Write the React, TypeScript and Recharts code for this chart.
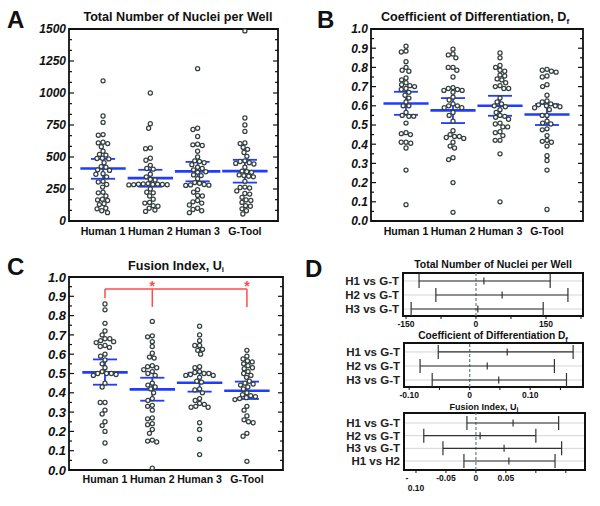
import React from "react";
import {
  ScatterChart,
  Scatter,
  XAxis,
  YAxis,
  ReferenceLine,
  ReferenceArea,
  ErrorBar,
  CartesianGrid,
} from "recharts";

const FONT = "'Liberation Sans', Arial, Helvetica, sans-serif";
const GROUPS = ["Human 1", "Human 2", "Human 3", "G-Tool"];

// A: total number of nuclei per well
const NUCLEI_H1 = [1095, 820, 770, 675, 670, 615, 610, 605, 580, 545, 520, 515, 490, 488, 485, 455, 425, 420, 400, 395, 370, 365, 345, 310, 305, 285, 265, 225, 220, 195, 170, 165, 160, 135, 128, 100, 95, 80, 65];
const NUCLEI_H2 = [1000, 760, 725, 570, 565, 490, 475, 435, 410, 405, 365, 345, 325, 320, 292, 290, 288, 287, 286, 285, 284, 283, 282, 250, 225, 220, 195, 170, 145, 140, 120, 115, 100, 85, 75];
const NUCLEI_H3 = [1190, 725, 715, 660, 600, 595, 590, 545, 500, 470, 465, 455, 440, 420, 410, 400, 385, 380, 360, 355, 330, 300, 295, 285, 282, 280, 278, 245, 225, 200, 195, 160, 150, 140, 125, 100, 90, 80, 65];
const NUCLEI_GT = [1485, 805, 750, 700, 610, 605, 575, 560, 535, 505, 470, 465, 455, 450, 445, 420, 390, 385, 380, 360, 355, 350, 345, 310, 265, 262, 258, 235, 215, 210, 185, 165, 160, 145, 120, 115, 95, 80, 55];
const NUCLEI_MEAN = [410, 335, 388, 390];
const NUCLEI_LO = [330, 268, 310, 300];
const NUCLEI_HI = [485, 400, 462, 478];

// B: coefficient of differentiation
const DIFF_H1 = [0.91, 0.885, 0.88, 0.83, 0.8, 0.785, 0.78, 0.745, 0.735, 0.72, 0.71, 0.705, 0.7, 0.69, 0.685, 0.67, 0.655, 0.64, 0.62, 0.6, 0.6, 0.565, 0.55, 0.545, 0.545, 0.51, 0.46, 0.455, 0.45, 0.41, 0.41, 0.405, 0.38, 0.265, 0.085];
const DIFF_H2 = [0.895, 0.87, 0.865, 0.85, 0.8, 0.8, 0.785, 0.75, 0.695, 0.69, 0.685, 0.68, 0.68, 0.67, 0.645, 0.63, 0.61, 0.6, 0.6, 0.59, 0.59, 0.565, 0.55, 0.52, 0.47, 0.45, 0.44, 0.44, 0.435, 0.43, 0.41, 0.39, 0.38, 0.33, 0.32, 0.2, 0.045];
const DIFF_H3 = [0.875, 0.85, 0.81, 0.8, 0.785, 0.78, 0.76, 0.755, 0.74, 0.735, 0.72, 0.705, 0.7, 0.69, 0.69, 0.64, 0.62, 0.61, 0.6, 0.595, 0.58, 0.565, 0.55, 0.545, 0.54, 0.53, 0.51, 0.505, 0.49, 0.49, 0.465, 0.46, 0.445, 0.42, 0.42, 0.35, 0.1];
const DIFF_GT = [0.79, 0.785, 0.78, 0.775, 0.755, 0.75, 0.71, 0.7, 0.655, 0.625, 0.62, 0.61, 0.605, 0.6, 0.6, 0.595, 0.59, 0.58, 0.55, 0.55, 0.52, 0.51, 0.505, 0.48, 0.475, 0.445, 0.42, 0.415, 0.41, 0.39, 0.34, 0.315, 0.265, 0.06];
const DIFF_MEAN = [0.612, 0.576, 0.6, 0.555];
const DIFF_LO = [0.553, 0.51, 0.548, 0.5];
const DIFF_HI = [0.673, 0.64, 0.652, 0.609];

// C: fusion index
const FUSION_H1 = [0.86, 0.83, 0.76, 0.72, 0.7, 0.68, 0.68, 0.67, 0.665, 0.66, 0.645, 0.64, 0.635, 0.6, 0.59, 0.57, 0.55, 0.53, 0.51, 0.5, 0.5, 0.5, 0.495, 0.49, 0.45, 0.43, 0.35, 0.35, 0.31, 0.29, 0.25, 0.23, 0.2, 0.14, 0.045];
const FUSION_H2 = [0.77, 0.695, 0.69, 0.665, 0.64, 0.605, 0.585, 0.58, 0.54, 0.535, 0.53, 0.52, 0.51, 0.5, 0.49, 0.45, 0.44, 0.43, 0.42, 0.4, 0.37, 0.36, 0.335, 0.33, 0.31, 0.27, 0.265, 0.24, 0.235, 0.21, 0.19, 0.155, 0.15, 0.145, 0.01];
const FUSION_H3 = [0.745, 0.7, 0.67, 0.645, 0.645, 0.625, 0.62, 0.6, 0.535, 0.53, 0.51, 0.505, 0.5, 0.5, 0.495, 0.49, 0.49, 0.48, 0.46, 0.455, 0.42, 0.415, 0.4, 0.37, 0.36, 0.345, 0.34, 0.33, 0.325, 0.325, 0.245, 0.21, 0.16, 0.08];
const FUSION_GT = [0.62, 0.59, 0.575, 0.565, 0.56, 0.55, 0.54, 0.53, 0.525, 0.51, 0.5, 0.49, 0.48, 0.46, 0.45, 0.445, 0.44, 0.43, 0.42, 0.4, 0.39, 0.385, 0.38, 0.375, 0.37, 0.365, 0.33, 0.31, 0.28, 0.26, 0.25, 0.245, 0.19, 0.175, 0.045];
const FUSION_MEAN = [0.506, 0.418, 0.452, 0.411];
const FUSION_LO = [0.442, 0.359, 0.406, 0.368];
const FUSION_HI = [0.573, 0.478, 0.504, 0.458];
const SIG_STARS = [2, 4];

// D: confidence intervals of differences
const D_ROWS3 = ["H1 vs G-T", "H2 vs G-T", "H3 vs G-T"];
const D_ROWS4 = ["H1 vs G-T", "H2 vs G-T", "H3 vs G-T", "H1 vs H2"];
const D1_LO = [-122, -86, -139];
const D1_MID = [17, 56, 4];
const D1_HI = [159, 197, 144];
const D2_LO = [-0.052, -0.082, -0.062];
const D2_MID = [0.062, 0.029, 0.048];
const D2_HI = [0.171, 0.14, 0.16];
const D3_LO = [-0.015, -0.087, -0.055, -0.02];
const D3_MID = [0.062, 0.007, 0.047, 0.055];
const D3_HI = [0.138, 0.1, 0.143, 0.132];

const BLUE = "#1f3cff";
const RED = "#ff4a4a";

type Margin = { top: number; right: number; bottom: number; left: number };

// simple beeswarm: place each point nearest the centre without overlapping
function swarm(groups: number[][], pxPerY: number, pxPerX: number, d = 4.8) {
  const out: { x: number; y: number }[] = [];
  groups.forEach((vals, gi) => {
    const placed: { x: number; y: number }[] = [];
    [...vals]
      .sort((a, b) => b - a)
      .forEach((v) => {
        const py = v * pxPerY;
        const blocked: [number, number][] = [];
        placed.forEach((p) => {
          const dy = Math.abs(p.y - py);
          if (dy < d) {
            const w = Math.sqrt(d * d - dy * dy);
            blocked.push([p.x - w, p.x + w]);
          }
        });
        const cands = [0];
        blocked.forEach(([a, b]) => cands.push(a, b));
        cands.sort((a, b) => Math.abs(a) - Math.abs(b));
        const px =
          cands.find((c) => blocked.every(([a, b]) => c <= a + 1e-6 || c >= b - 1e-6)) ?? 0;
        placed.push({ x: px, y: py });
        out.push({ x: gi + 1 + px / pxPerX, y: v });
      });
  });
  return out;
}

const Dot = (p: any) => (
  <circle cx={p.cx} cy={p.cy} r={2.05} fill="#fff" stroke="#34403f" strokeWidth={1.25} />
);

type DotProps = {
  left: number;
  top: number;
  margin: Margin;
  xDomain: [number, number];
  yDomain: [number, number];
  yTicks: number[];
  isMajor: (v: number) => boolean;
  fmt: (v: number) => string;
  yFont: number;
  xTickMargin: number;
  groups: number[][];
  mean: number[];
  lo: number[];
  hi: number[];
  extras?: React.ReactNode[];
};

function DotPanel(props: DotProps) {
  const W = 300;
  const H = 250;
  const { margin, xDomain, yDomain } = props;
  const plotW = W - margin.left - margin.right - 50;
  const plotH = H - margin.top - margin.bottom - 29;
  const pxPerX = plotW / (xDomain[1] - xDomain[0]);
  const pxPerY = plotH / (yDomain[1] - yDomain[0]);
  const pts = swarm(props.groups, pxPerY, pxPerX);

  const yTick = (t: any) => {
    const v = t.payload.value;
    const major = props.isMajor(v);
    const len = major ? 5 : 3;
    return (
      <g>
        <line x1={t.x} x2={t.x + len} y1={t.y} y2={t.y} stroke="#111" strokeWidth={1.2} />
        <line x1={t.x + plotW - len} x2={t.x + plotW} y1={t.y} y2={t.y} stroke="#111" strokeWidth={1.2} />
        {major && (
          <text
            x={t.x - 3}
            y={t.y + props.yFont * 0.36}
            textAnchor="end"
            fontSize={props.yFont}
            fontWeight="bold"
            fontStyle="italic"
            fill="#111"
            fontFamily={FONT}
          >
            {props.fmt(v)}
          </text>
        )}
      </g>
    );
  };

  const summary: React.ReactNode[] = [];
  props.mean.forEach((m, i) => {
    const g = i + 1;
    summary.push(
      <ReferenceLine key={`v${i}`} segment={[{ x: g, y: props.lo[i] }, { x: g, y: props.hi[i] }]} stroke={BLUE} strokeWidth={1.8} />,
      <ReferenceLine key={`l${i}`} segment={[{ x: g - 0.255, y: props.lo[i] }, { x: g + 0.255, y: props.lo[i] }]} stroke={BLUE} strokeWidth={1.8} />,
      <ReferenceLine key={`h${i}`} segment={[{ x: g - 0.255, y: props.hi[i] }, { x: g + 0.255, y: props.hi[i] }]} stroke={BLUE} strokeWidth={1.8} />,
      <ReferenceLine key={`m${i}`} segment={[{ x: g - 0.48, y: m }, { x: g + 0.48, y: m }]} stroke={BLUE} strokeWidth={2.6} />
    );
  });

  return (
    <div style={{ position: "absolute", left: props.left, top: props.top }}>
      <ScatterChart width={W} height={H} margin={margin}>
        <XAxis
          type="number"
          dataKey="x"
          domain={xDomain}
          ticks={[1, 2, 3, 4]}
          interval={0}
          height={29}
          tickFormatter={(v: number) => GROUPS[v - 1] ?? ""}
          tickLine={false}
          axisLine={false}
          tickSize={0}
          tickMargin={props.xTickMargin}
          tick={{ fontSize: 10.6, fontWeight: "bold", fill: "#111", fontFamily: FONT }}
        />
        <YAxis
          type="number"
          dataKey="y"
          domain={yDomain}
          ticks={props.yTicks}
          interval={0}
          width={50}
          tickLine={false}
          axisLine={false}
          tickSize={0}
          tickMargin={0}
          tick={yTick}
        />
        <Scatter data={pts} shape={Dot} isAnimationActive={false} />
        {summary}
        {props.extras}
        <ReferenceArea
          x1={xDomain[0]}
          x2={xDomain[1]}
          y1={yDomain[0]}
          y2={yDomain[1]}
          fill="none"
          fillOpacity={0}
          stroke="#111"
          strokeWidth={1.8}
        />
      </ScatterChart>
    </div>
  );
}

type IntProps = {
  left: number;
  top: number;
  height: number;
  xAxisH: number;
  margin: Margin;
  rows: string[];
  lo: number[];
  mid: number[];
  hi: number[];
  xDomain: [number, number];
  yDomain: [number, number];
  xTicks: number[];
  labels: Record<string, string>;
  splitMinus?: string;
};

function IntervalPanel(props: IntProps) {
  const data = props.mid.map((m, i) => ({ x: m, y: i + 1, err: [m - props.lo[i], props.hi[i] - m] }));
  const Mid = (p: any) => (
    <line x1={p.cx} x2={p.cx} y1={p.cy - 3.5} y2={p.cy + 3.5} stroke="#333" strokeWidth={1.2} />
  );
  const xTick = (t: any) => {
    const key = String(t.payload.value);
    const lab = props.labels[key];
    return (
      <g>
        <line x1={t.x} x2={t.x} y1={t.y} y2={t.y + 3} stroke="#111" strokeWidth={1} />
        {lab !== undefined && (
          <text x={t.x} y={t.y + 10.5} textAnchor="middle" fontSize={8.5} fontWeight="bold" fill="#111" fontFamily={FONT}>
            {lab}
          </text>
        )}
        {props.splitMinus === key && (
          <text fontSize={8.5} fontWeight="bold" fill="#111" fontFamily={FONT} textAnchor="middle">
            <tspan x={t.x - 9} y={t.y + 11}>-</tspan>
            <tspan x={t.x} y={t.y + 21}>0.10</tspan>
          </text>
        )}
      </g>
    );
  };
  return (
    <div style={{ position: "absolute", left: props.left, top: props.top }}>
      <ScatterChart width={300} height={props.height} margin={props.margin}>
        <CartesianGrid horizontal vertical={false} stroke="#d4d4d4" strokeWidth={1} />
        <XAxis
          type="number"
          dataKey="x"
          domain={props.xDomain}
          ticks={props.xTicks}
          interval={0}
          height={props.xAxisH}
          tickLine={false}
          axisLine={false}
          tickSize={0}
          tickMargin={0}
          tick={xTick}
        />
        <YAxis
          type="number"
          dataKey="y"
          domain={props.yDomain}
          reversed
          ticks={props.rows.map((_, i) => i + 1)}
          interval={0}
          width={100}
          tickFormatter={(v: number) => props.rows[v - 1] ?? ""}
          tickLine={false}
          axisLine={false}
          tickSize={0}
          tickMargin={4}
          tick={{ fontSize: 11.5, fontWeight: "bold", fill: "#222", fontFamily: FONT }}
        />
        <ReferenceLine x={0} stroke="#5b8585" strokeDasharray="3 2" strokeWidth={1.2} />
        <Scatter data={data} shape={Mid} isAnimationActive={false}>
          <ErrorBar dataKey="err" direction="x" width={7} stroke="#333" strokeWidth={1.2} isAnimationActive={false} />
        </Scatter>
        <ReferenceArea
          x1={props.xDomain[0]}
          x2={props.xDomain[1]}
          y1={props.yDomain[0]}
          y2={props.yDomain[1]}
          fill="none"
          fillOpacity={0}
          stroke="#111"
          strokeWidth={2}
        />
      </ScatterChart>
    </div>
  );
}

const range = (n: number, step: number) => Array.from({ length: n }, (_, i) => +(i * step).toFixed(6));
const near = (v: number, step: number) => Math.abs(v / step - Math.round(v / step)) < 1e-6;

export default function App() {
  const bracket = [
    <ReferenceLine key="b0" segment={[{ x: 1, y: 0.938 }, { x: 4, y: 0.938 }]} stroke={RED} strokeWidth={1.5} />,
    <ReferenceLine key="b1" segment={[{ x: 1, y: 0.938 }, { x: 1, y: 0.89 }]} stroke={RED} strokeWidth={1.5} />,
    <ReferenceLine key="b2" segment={[{ x: 2, y: 0.938 }, { x: 2, y: 0.845 }]} stroke={RED} strokeWidth={1.5} />,
    <ReferenceLine key="b3" segment={[{ x: 4, y: 0.938 }, { x: 4, y: 0.845 }]} stroke={RED} strokeWidth={1.5} />,
    <Scatter
      key="stars"
      data={SIG_STARS.map((g) => ({ x: g, y: 0.969 }))}
      isAnimationActive={false}
      shape={(p: any) => (
        <text x={p.cx} y={p.cy + 8} textAnchor="middle" fill={RED} fontSize={14} fontWeight="bold" fontFamily={FONT}>
          *
        </text>
      )}
    />,
  ];

  const txt = { fontFamily: FONT, fontWeight: "bold" as const, fill: "#111" };

  return (
    <div style={{ position: "absolute", left: 0, top: 0, width: 600, height: 506, background: "#fff" }}>
      <DotPanel
        left={0}
        top={0}
        margin={{ top: 29, right: 22, bottom: 0, left: 19 }}
        xDomain={[0.28, 4.7]}
        yDomain={[0, 1500]}
        yTicks={range(19, 250 / 3)}
        isMajor={(v) => near(v, 250)}
        fmt={(v) => String(Math.round(v))}
        yFont={12}
        xTickMargin={6}
        groups={[NUCLEI_H1, NUCLEI_H2, NUCLEI_H3, NUCLEI_GT]}
        mean={NUCLEI_MEAN}
        lo={NUCLEI_LO}
        hi={NUCLEI_HI}
      />
      <DotPanel
        left={300}
        top={0}
        margin={{ top: 29, right: 17, bottom: 0, left: 21 }}
        xDomain={[0.255, 4.766]}
        yDomain={[0, 1]}
        yTicks={range(21, 0.05)}
        isMajor={(v) => near(v, 0.1)}
        fmt={(v) => v.toFixed(1)}
        yFont={12}
        xTickMargin={6}
        groups={[DIFF_H1, DIFF_H2, DIFF_H3, DIFF_GT]}
        mean={DIFF_MEAN}
        lo={DIFF_LO}
        hi={DIFF_HI}
      />
      <DotPanel
        left={0}
        top={250}
        margin={{ top: 27, right: 17, bottom: 1, left: 19 }}
        xDomain={[0.239, 4.763]}
        yDomain={[0, 1]}
        yTicks={range(21, 0.05)}
        isMajor={(v) => near(v, 0.1)}
        fmt={(v) => v.toFixed(1)}
        yFont={13}
        xTickMargin={5}
        groups={[FUSION_H1, FUSION_H2, FUSION_H3, FUSION_GT]}
        mean={FUSION_MEAN}
        lo={FUSION_LO}
        hi={FUSION_HI}
        extras={bracket}
      />
      <IntervalPanel
        left={300}
        top={250}
        height={86}
        xAxisH={20}
        margin={{ top: 23, right: 17, bottom: 0, left: 3 }}
        rows={D_ROWS3}
        lo={D1_LO}
        mid={D1_MID}
        hi={D1_HI}
        xDomain={[-156.4, 229.3]}
        yDomain={[0.43, 3.5]}
        xTicks={[-150, -75, 0, 75, 150, 225]}
        labels={{ "-150": "-150", "0": "0", "150": "150" }}
      />
      <IntervalPanel
        left={300}
        top={330}
        height={77}
        xAxisH={20}
        margin={{ top: 13, right: 17, bottom: 0, left: 4 }}
        rows={D_ROWS3}
        lo={D2_LO}
        mid={D2_MID}
        hi={D2_HI}
        xDomain={[-0.1086, 0.1873]}
        yDomain={[0.36, 3.5]}
        xTicks={[-0.1, -0.05, 0, 0.05, 0.1, 0.15]}
        labels={{ "-0.1": "-0.10", "0": "0", "0.1": "0.10" }}
      />
      <IntervalPanel
        left={300}
        top={400}
        height={100}
        xAxisH={30}
        margin={{ top: 13, right: 15, bottom: 0, left: 4 }}
        rows={D_ROWS4}
        lo={D3_LO}
        mid={D3_MID}
        hi={D3_HI}
        xDomain={[-0.12, 0.182]}
        yDomain={[0.21, 4.71]}
        xTicks={[-0.1, -0.05, 0, 0.05, 0.1, 0.15]}
        labels={{ "-0.05": "-0.05", "0": "0", "0.05": "0.05" }}
        splitMinus="-0.1"
      />
      <svg width={600} height={506} style={{ position: "absolute", left: 0, top: 0, pointerEvents: "none" }}>
        <text x={7} y={28} fontSize={24} {...txt}>A</text>
        <text x={317} y={28} fontSize={24} {...txt}>B</text>
        <text x={7} y={275} fontSize={24} {...txt}>C</text>
        <text x={305} y={277} fontSize={24} {...txt}>D</text>
        <text x={178} y={21} fontSize={12.6} textAnchor="middle" {...txt}>Total Number of Nuclei per Well</text>
        <text x={475} y={21} fontSize={12.6} textAnchor="middle" {...txt}>
          Coefficient of Differentiation, D<tspan fontSize={8} dy={3}>f</tspan>
        </text>
        <text x={176} y={269.5} fontSize={12.6} textAnchor="middle" {...txt}>
          Fusion Index, U<tspan fontSize={8} dy={2}>i</tspan>
        </text>
        <text x={493} y={268} fontSize={10.5} textAnchor="middle" {...txt}>Total Number of Nuclei per Well</text>
        <text x={493} y={339} fontSize={10.2} textAnchor="middle" {...txt}>
          Coefficient of Differentiation D<tspan fontSize={7.5} dy={2.5}>f</tspan>
        </text>
        <text x={484} y={410} fontSize={9} textAnchor="middle" {...txt}>
          Fusion Index, U<tspan fontSize={7} dy={2}>i</tspan>
        </text>
      </svg>
    </div>
  );
}
